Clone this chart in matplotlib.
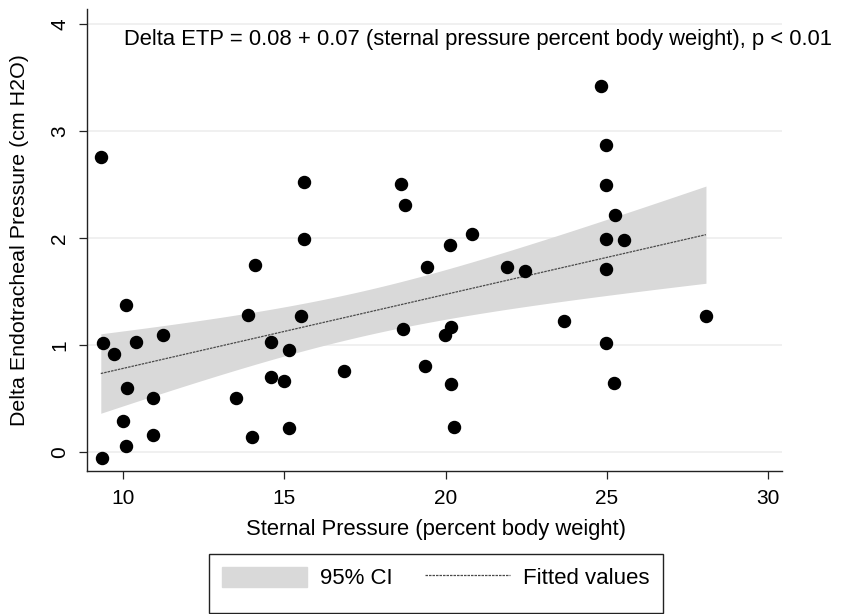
import numpy as np
import matplotlib
matplotlib.use('Agg')
from matplotlib import pyplot as plt
from matplotlib.patches import Rectangle, Patch
from matplotlib.lines import Line2D

matplotlib.rcParams['font.family'] = ['Liberation Sans', 'DejaVu Sans']

# sternal pressure (percent body weight) and delta ETP (cm H2O)
sternal = [9.30, 15.61, 18.62, 18.74, 15.61, 14.10, 19.42, 10.07, 13.86, 15.52,
           24.83, 24.99, 24.99, 25.26, 24.99, 25.54, 20.82, 20.15, 21.90, 22.47,
           24.99, 23.66, 28.08, 11.22, 9.36, 10.40, 9.71, 14.57, 15.15, 18.69,
           19.37, 16.85, 14.59, 14.97, 10.11, 10.92, 13.49, 9.98, 15.14, 10.93,
           14.00, 10.08, 9.34, 20.18, 19.98, 24.99, 20.18, 25.24, 20.25]
delta_etp = [2.76, 2.53, 2.51, 2.31, 1.99, 1.75, 1.73, 1.38, 1.28, 1.27,
             3.42, 2.87, 2.50, 2.22, 1.99, 1.98, 2.04, 1.94, 1.73, 1.69,
             1.71, 1.23, 1.27, 1.10, 1.02, 1.03, 0.92, 1.03, 0.96, 1.15,
             0.81, 0.76, 0.70, 0.67, 0.60, 0.51, 0.51, 0.29, 0.23, 0.16,
             0.14, 0.06, -0.05, 1.17, 1.10, 1.02, 0.64, 0.65, 0.24]

x_ticks = [10, 15, 20, 25, 30]
y_ticks = [0, 1, 2, 3, 4]
note = 'Delta ETP = 0.08 + 0.07 (sternal pressure percent body weight), p < 0.01'

x = np.array(sternal)
y = np.array(delta_etp)
n = len(x)

# linear fit + 95% CI of the mean
b1, b0 = np.polyfit(x, y, 1)
resid = y - (b0 + b1 * x)
s = np.sqrt(np.sum(resid ** 2) / (n - 2))
sxx = np.sum((x - x.mean()) ** 2)
t = 2.012  # t(0.975, 47)
xs = np.linspace(x.min(), x.max(), 100)
fit = b0 + b1 * xs
se = s * np.sqrt(1.0 / n + (xs - x.mean()) ** 2 / sxx)

fig = plt.figure(figsize=(8.53, 6.14), dpi=100)
ax = fig.add_axes([0.1023, 0.2329, 0.8141, 0.7521])

ax.fill_between(xs, fit - t * se, fit + t * se, color='#d9d9d9', lw=0, zorder=1)
ax.plot(xs, fit, color='#4a4a4a', lw=0.9, ls=(0, (2, 0.8)), zorder=2)
ax.scatter(x, y, s=75, color='black', zorder=3)

ax.set_xlim(8.88, 30.43)
ax.set_ylim(-0.175, 4.14)
ax.set_xticks(x_ticks)
ax.set_yticks(y_ticks)
ax.grid(axis='y', color='#eeeeee', lw=1.2, zorder=0)
ax.set_axisbelow(True)
for side in ['top', 'right']:
    ax.spines[side].set_visible(False)
for side in ['left', 'bottom']:
    ax.spines[side].set_color('#222222')
    ax.spines[side].set_linewidth(1.0)
ax.tick_params(length=6, width=0.9, color='#222222', labelsize=15, pad=7)
for lbl in ax.get_yticklabels():
    lbl.set_rotation(90)
    lbl.set_va('center')

fig.text(436 / 853, 1 - 529 / 614, 'Sternal Pressure (percent body weight)',
         fontsize=15.8, ha='center', va='center')
fig.text(20 / 853, 1 - 240 / 614, 'Delta Endotracheal Pressure (cm H2O)',
         fontsize=15.4, ha='center', va='center', rotation=90)

ax.text(124 / 853, 1 - 40 / 614, note, transform=fig.transFigure,
        fontsize=15.8, va='center', ha='left')

# legend with a frame drawn by hand
fig.patches.append(Rectangle((208.7 / 853, 1 - 612.7 / 614), 454 / 853, 58.7 / 614,
                             transform=fig.transFigure, fill=False,
                             edgecolor='#222222', lw=1.0))
handles = [Patch(color='#d9d9d9'),
           Line2D([], [], color='#4a4a4a', lw=0.9, ls=(0, (2, 0.8)))]
fig.legend(handles, ['95% CI', 'Fitted values'], ncol=2, frameon=False,
           loc='center', bbox_to_anchor=(436 / 853, 1 - 578 / 614),
           fontsize=16, handlelength=3.83, handleheight=1.04,
           handletextpad=0.59, columnspacing=1.44)

fig.savefig('out.png', dpi=100)
